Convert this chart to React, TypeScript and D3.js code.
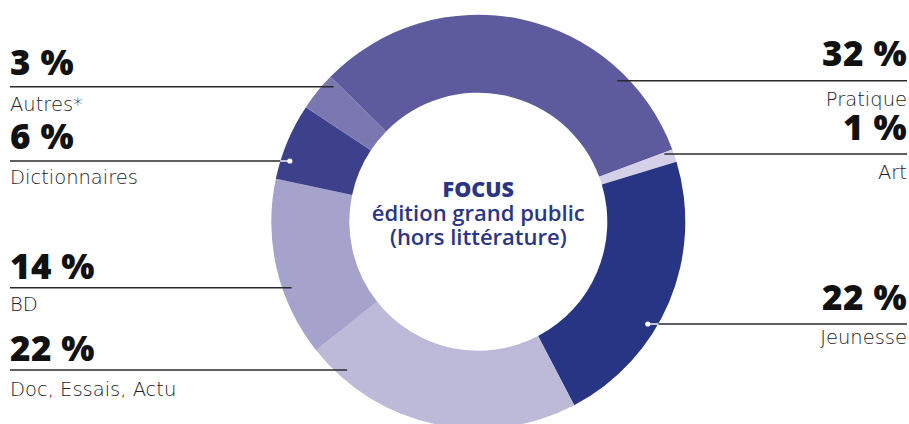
import React from "react";
import * as d3 from "d3";

const categories = ["Pratique", "Art", "Jeunesse", "Doc, Essais, Actu", "BD", "Dictionnaires", "Autres*"];
const values = [32, 1, 22, 22, 14, 6, 3];
const colors = ["#5d5b9d", "#d3d0e8", "#283584", "#bdbad9", "#a5a2cb", "#3d418b", "#7b78b1"];
// label layout: side, value baseline y, line y, name baseline y, dark segment (white pointer inside)
const labelSide = ["right", "right", "right", "left", "left", "left", "left"];
const labelValueY = [66, 140, 310, 361, 279, 149, 75];
const labelLineY = [80.7, 154, 324, 370, 287.7, 161, 86.7];
const labelNameY = [105.7, 179.3, 344, 396, 311, 183.5, 110.7];
const darkSegment = [false, false, true, false, false, true, false];
const centerLines = ["FOCUS", "édition grand public", "(hors littérature)"];

const W = 909;
const H = 424;
const cx = 478.3;
const cy = 221.7;
const rOuter = 207;
const rInner = 129;
const rPointer = 198;
const startDeg = -45.6;

export default function App() {
  const pie = d3
    .pie<number>()
    .sort(null)
    .value((d) => d)
    .startAngle((startDeg * Math.PI) / 180)
    .endAngle((startDeg * Math.PI) / 180 + 2 * Math.PI);
  const arcs = pie(values);
  const arc = d3.arc<d3.PieArcDatum<number>>().innerRadius(rInner).outerRadius(rOuter);

  const leftX = 10;
  const rightX = 907;

  return (
    <svg
      width={W}
      height={H}
      style={{ position: "absolute", left: 0, top: 0, background: "#fff" }}
    >
      <g transform={`translate(${cx},${cy})`}>
        {arcs.map((a, i) => (
          <path key={i} d={arc(a) || ""} fill={colors[i]} />
        ))}
      </g>
      {categories.map((c, i) => {
        const side = labelSide[i];
        const ly = labelLineY[i];
        const dy = ly - cy;
        const sgn = side === "left" ? -1 : 1;
        const px = cx + sgn * Math.sqrt(rPointer * rPointer - dy * dy);
        const ox = cx + sgn * Math.sqrt(rOuter * rOuter - dy * dy);
        const tx = side === "left" ? leftX : rightX;
        const anchor = side === "left" ? "start" : "end";
        return (
          <g key={c}>
            {darkSegment[i] ? (
              <>
                <line x1={tx} x2={ox} y1={ly} y2={ly} stroke="#2a2a2a" strokeWidth={1.4} />
                <line x1={ox} x2={px} y1={ly} y2={ly} stroke="#fff" strokeWidth={1.4} />
                <circle cx={px} cy={ly} r={2.6} fill="#fff" />
              </>
            ) : (
              <line x1={tx} x2={px} y1={ly} y2={ly} stroke="#2a2a2a" strokeWidth={1.4} />
            )}
            <text
              x={tx}
              y={labelValueY[i]}
              textAnchor={anchor}
              fontFamily="'Open Sans', sans-serif"
              fontWeight={800}
              fontSize={35}
              letterSpacing={0.4}
              fill="#111"
            >
              {values[i]} %
            </text>
            <text
              x={tx}
              y={labelNameY[i]}
              textAnchor={anchor}
              fontFamily="'DejaVu Sans', sans-serif"
              fontWeight={200}
              fontSize={19.5}
              fill="#222"
            >
              {c}
            </text>
          </g>
        );
      })}
      <text
        x={cx}
        y={196.5}
        textAnchor="middle"
        fontFamily="'Open Sans', sans-serif"
        fontWeight={800}
        fontSize={21.5}
        fill="#2b3584"
      >
        {centerLines[0]}
      </text>
      <text
        x={cx}
        y={220.7}
        textAnchor="middle"
        fontFamily="'Open Sans', sans-serif"
        fontWeight={600}
        fontSize={22}
        fill="#2b3584"
      >
        {centerLines[1]}
      </text>
      <text
        x={cx}
        y={244.5}
        textAnchor="middle"
        fontFamily="'Open Sans', sans-serif"
        fontWeight={600}
        fontSize={22}
        fill="#2b3584"
      >
        {centerLines[2]}
      </text>
    </svg>
  );
}
